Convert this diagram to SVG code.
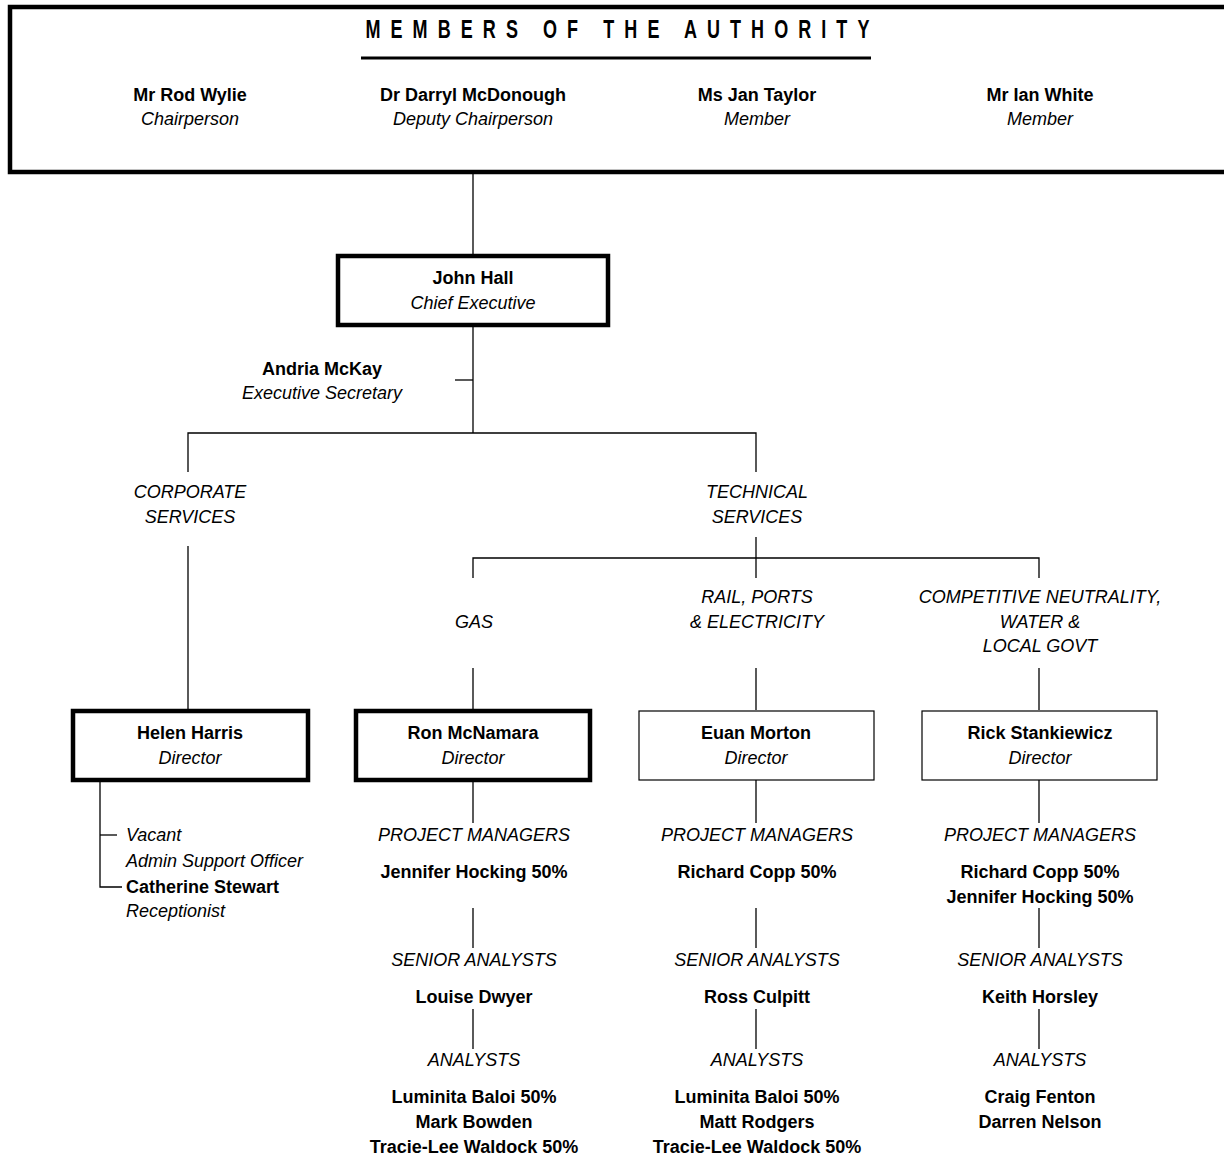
<svg xmlns="http://www.w3.org/2000/svg" width="1224" height="1157" viewBox="0 0 1224 1157">
<style>
text{font-family:"Liberation Sans",Arial,Helvetica,sans-serif;font-size:18px;fill:#000;text-anchor:middle}
.b{font-weight:bold}
.i{font-style:italic}
.l{text-anchor:start}
.title{font-weight:bold;font-size:25px;letter-spacing:14px}
.thick{fill:#fff;stroke:#000;stroke-width:4.5}
.thin{fill:#fff;stroke:#000;stroke-width:1.2}
#connectors line,#connectors path{stroke:#000;stroke-width:1.3;fill:none}
</style>
<rect width="1224" height="1157" fill="#fff"/>
<g id="connectors">
<line x1="473" y1="172" x2="473" y2="255"/>
<line x1="473" y1="325" x2="473" y2="433"/>
<line x1="455" y1="380" x2="473" y2="380"/>
<path d="M188,472 V433 H756 V472"/>
<line x1="188" y1="546" x2="188" y2="710"/>
<line x1="756" y1="537" x2="756" y2="558"/>
<path d="M473,578 V558 H1039 V578"/>
<line x1="756" y1="558" x2="756" y2="578"/>
<line x1="473" y1="668" x2="473" y2="710"/>
<line x1="756" y1="668" x2="756" y2="710"/>
<line x1="1039" y1="668" x2="1039" y2="710"/>
<path d="M100,780 V887 H122"/>
<line x1="100" y1="835" x2="117" y2="835"/>
<line x1="473" y1="780" x2="473" y2="823"/>
<line x1="756" y1="780" x2="756" y2="823"/>
<line x1="1039" y1="780" x2="1039" y2="823"/>
<line x1="473" y1="908" x2="473" y2="948"/>
<line x1="756" y1="908" x2="756" y2="948"/>
<line x1="1039" y1="908" x2="1039" y2="948"/>
<line x1="473" y1="1009" x2="473" y2="1049"/>
<line x1="756" y1="1009" x2="756" y2="1049"/>
<line x1="1039" y1="1009" x2="1039" y2="1049"/>
</g>
<g id="authority">
<rect class="thick" x="10" y="7" width="1230" height="165"/>
<text class="title" transform="translate(622.5,38) scale(0.72,1)">MEMBERS OF THE AUTHORITY</text>
<line x1="361" y1="58" x2="871" y2="58" stroke="#000" stroke-width="3"/>
<text class="b" x="190" y="101">Mr Rod Wylie</text>
<text class="i" x="190" y="125">Chairperson</text>
<text class="b" x="473" y="101">Dr Darryl McDonough</text>
<text class="i" x="473" y="125">Deputy Chairperson</text>
<text class="b" x="757" y="101">Ms Jan Taylor</text>
<text class="i" x="757" y="125">Member</text>
<text class="b" x="1040" y="101">Mr Ian White</text>
<text class="i" x="1040" y="125">Member</text>
</g>
<g id="ceo">
<rect class="thick" x="338" y="256" width="270" height="69"/>
<text class="b" x="473" y="284">John Hall</text>
<text class="i" x="473" y="309">Chief Executive</text>
</g>
<g id="secretary">
<text class="b" x="322" y="375">Andria McKay</text>
<text class="i" x="322" y="399">Executive Secretary</text>
</g>
<g id="corporate">
<text class="i" x="190" y="498">CORPORATE</text>
<text class="i" x="190" y="523">SERVICES</text>
</g>
<g id="technical">
<text class="i" x="757" y="498">TECHNICAL</text>
<text class="i" x="757" y="523">SERVICES</text>
</g>
<g id="gas-label"><text class="i" x="474" y="628">GAS</text></g>
<g id="rail-label">
<text class="i" x="757" y="603">RAIL, PORTS</text>
<text class="i" x="757" y="628">&amp; ELECTRICITY</text>
</g>
<g id="cn-label">
<text class="i" x="1040" y="603">COMPETITIVE NEUTRALITY,</text>
<text class="i" x="1040" y="628">WATER &amp;</text>
<text class="i" x="1040" y="652">LOCAL GOVT</text>
</g>
<g id="helen">
<rect class="thick" x="73" y="711" width="235" height="69"/>
<text class="b" x="190" y="739">Helen Harris</text>
<text class="i" x="190" y="764">Director</text>
</g>
<g id="helen-staff">
<text class="i l" x="126" y="841">Vacant</text>
<text class="i l" x="126" y="867">Admin Support Officer</text>
<text class="b l" x="126" y="893">Catherine Stewart</text>
<text class="i l" x="126" y="917">Receptionist</text>
</g>
<g id="ron">
<rect class="thick" x="356" y="711" width="234" height="69"/>
<text class="b" x="473" y="739">Ron McNamara</text>
<text class="i" x="473" y="764">Director</text>
</g>
<g id="euan">
<rect class="thin" x="639" y="711" width="235" height="69"/>
<text class="b" x="756" y="739">Euan Morton</text>
<text class="i" x="756" y="764">Director</text>
</g>
<g id="rick">
<rect class="thin" x="922" y="711" width="235" height="69"/>
<text class="b" x="1040" y="739">Rick Stankiewicz</text>
<text class="i" x="1040" y="764">Director</text>
</g>
<g id="gas-team">
<text class="i" x="474" y="841">PROJECT MANAGERS</text>
<text class="b" x="474" y="878">Jennifer Hocking 50%</text>
<text class="i" x="474" y="966">SENIOR ANALYSTS</text>
<text class="b" x="474" y="1003">Louise Dwyer</text>
<text class="i" x="474" y="1066">ANALYSTS</text>
<text class="b" x="474" y="1103">Luminita Baloi 50%</text>
<text class="b" x="474" y="1128">Mark Bowden</text>
<text class="b" x="474" y="1153">Tracie-Lee Waldock 50%</text>
</g>
<g id="rail-team">
<text class="i" x="757" y="841">PROJECT MANAGERS</text>
<text class="b" x="757" y="878">Richard Copp 50%</text>
<text class="i" x="757" y="966">SENIOR ANALYSTS</text>
<text class="b" x="757" y="1003">Ross Culpitt</text>
<text class="i" x="757" y="1066">ANALYSTS</text>
<text class="b" x="757" y="1103">Luminita Baloi 50%</text>
<text class="b" x="757" y="1128">Matt Rodgers</text>
<text class="b" x="757" y="1153">Tracie-Lee Waldock 50%</text>
</g>
<g id="cn-team">
<text class="i" x="1040" y="841">PROJECT MANAGERS</text>
<text class="b" x="1040" y="878">Richard Copp 50%</text>
<text class="b" x="1040" y="903">Jennifer Hocking 50%</text>
<text class="i" x="1040" y="966">SENIOR ANALYSTS</text>
<text class="b" x="1040" y="1003">Keith Horsley</text>
<text class="i" x="1040" y="1066">ANALYSTS</text>
<text class="b" x="1040" y="1103">Craig Fenton</text>
<text class="b" x="1040" y="1128">Darren Nelson</text>
</g>
</svg>
